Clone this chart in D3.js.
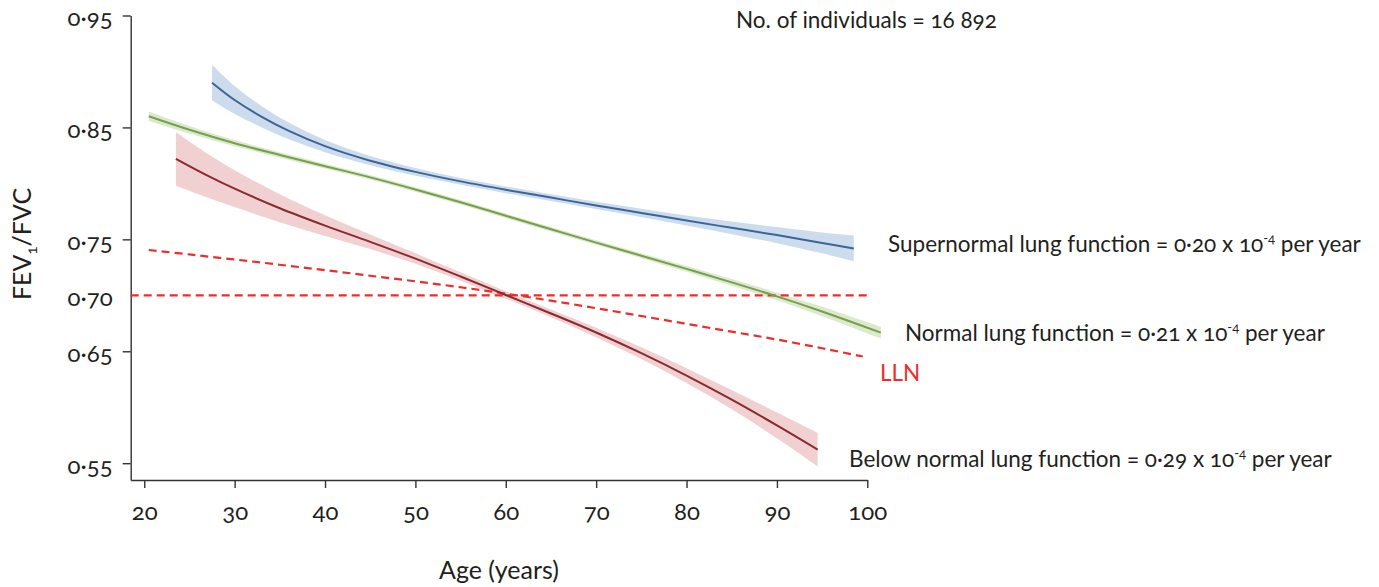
<!DOCTYPE html>
<html>
<head>
<meta charset="utf-8">
<script src="https://cdn.jsdelivr.net/npm/d3@7"></script>
<style>
    body { margin: 0; background: #fff; }
    svg text { font-family: Lato, "Open Sans", sans-serif; font-variant-numeric: oldstyle-nums; fill: #231f20; }
</style>
</head>
<body>
<svg id="chart"></svg>
<script>
// Values (FEV1/FVC by age), half = half width of the shaded band
const superAges = [27.5, 30, 33, 36, 40, 45, 50, 55, 60, 65, 70, 75, 80, 85, 90, 95, 98.5];
const superVals = [0.890, 0.8745, 0.8595, 0.8469, 0.8333, 0.8203, 0.8103, 0.8018, 0.7943, 0.7873, 0.7803, 0.7736, 0.7668, 0.7603, 0.7538, 0.7468, 0.7419];
const superHalf = [0.016, 0.0125, 0.0095, 0.0075, 0.0055, 0.0042, 0.0035, 0.003, 0.003, 0.003, 0.0032, 0.0037, 0.0045, 0.0057, 0.0072, 0.0093, 0.0115];

const normalAges = [20.5, 25, 30, 35, 40, 45, 50, 55, 60, 65, 70, 75, 80, 85, 90, 95, 101.5];
const normalVals = [0.860, 0.8479, 0.8359, 0.8254, 0.8154, 0.8054, 0.7946, 0.7831, 0.7711, 0.7591, 0.7471, 0.7354, 0.7236, 0.7116, 0.6991, 0.6856, 0.6667];
const normalHalf = [0.0042, 0.0034, 0.0028, 0.0024, 0.0022, 0.002, 0.002, 0.002, 0.002, 0.002, 0.002, 0.0022, 0.0025, 0.003, 0.0035, 0.0042, 0.0052];

const belowAges = [23.5, 27, 30, 35, 40, 45, 50, 55, 60, 65, 70, 75, 80, 85, 90, 94.5];
const belowVals = [0.822, 0.807, 0.7953, 0.7778, 0.7623, 0.7478, 0.7328, 0.7168, 0.7003, 0.6838, 0.6668, 0.6483, 0.6283, 0.6068, 0.5838, 0.5622];
const belowHalf = [0.024, 0.0195, 0.0165, 0.0125, 0.0092, 0.0065, 0.0047, 0.0037, 0.0033, 0.0035, 0.0042, 0.0052, 0.0066, 0.0085, 0.0115, 0.015];

const llnAges = [20.5, 25, 30, 35, 40, 45, 50, 55, 60, 65, 70, 75, 80, 85, 90, 95, 99.5];
const llnVals = [0.7405, 0.7365, 0.732, 0.7273, 0.7225, 0.7175, 0.7125, 0.7072, 0.7015, 0.6952, 0.6885, 0.6815, 0.6745, 0.6675, 0.6605, 0.6527, 0.6453];

const fixedRatio = 0.70;

const xTicks = [20, 30, 40, 50, 60, 70, 80, 90, 100];
const yTicks = [0.55, 0.65, 0.70, 0.75, 0.85, 0.95];

class TrajectoryChart {
    constructor(config_) {
        this.config = {
            svgElementId: config_.svgElementId,
            width: config_.width,
            height: config_.height
        };
        this.initVis();
    }

    initVis() {
        const vis = this;

        vis.svg = d3.select('#' + vis.config.svgElementId)
                        .attr('width', vis.config.width)
                        .attr('height', vis.config.height);

        vis.x = d3.scaleLinear().domain([18.5, 100]).range([130.7, 867.3]);
        vis.y = d3.scaleLinear().domain([0.535, 0.95]).range([480, 15.5]);

        const rows = (ages, vals, half) => ages.map((a, i) => ({ age: a, v: vals[i], h: half ? half[i] : 0 }));
        vis.series = [
            { key: 'super',  rows: rows(superAges, superVals, superHalf),    line: '#3b6596', band: '#cddcec' },
            { key: 'normal', rows: rows(normalAges, normalVals, normalHalf), line: '#76a04a', band: '#dce9ce' },
            { key: 'below',  rows: rows(belowAges, belowVals, belowHalf),    line: '#8a2a2e', band: '#f0d0d0' }
        ];
        vis.lln = rows(llnAges, llnVals);

        vis.renderVis();
    }

    renderVis() {
        const vis = this;
        const fmt = d => d3.format('.2f')(d).replace('.', '·');
        const red = '#ee2c2c';

        // axes
        const xAxis = d3.axisBottom(vis.x).tickValues(xTicks).tickSize(8).tickSizeOuter(0).tickPadding(15);
        const yAxis = d3.axisLeft(vis.y).tickValues(yTicks).tickSize(8).tickSizeOuter(0).tickPadding(10).tickFormat(fmt);

        const gx = vis.svg.append('g').attr('transform', 'translate(0,480)').call(xAxis);
        const gy = vis.svg.append('g').attr('transform', 'translate(130.7,0)').call(yAxis);

        [gx, gy].forEach(g => {
            g.select('.domain').attr('stroke', '#333').attr('stroke-width', 1.4);
            g.selectAll('.tick line').attr('stroke', '#333').attr('stroke-width', 1.4);
            g.selectAll('.tick text').attr('font-size', 24).attr('font-family', null).attr('fill', '#231f20');
        });
        gx.selectAll('.tick text').attr('dy', '0.71em');
        gy.selectAll('.tick text').attr('dy', '0.42em');
        gy.selectAll('.tick').filter(d => d === fixedRatio).select('line').remove();
        gy.selectAll('.tick').filter(d => d === fixedRatio).select('text').attr('fill', red);

        const area = d3.area()
                        .x(d => vis.x(d.age))
                        .y0(d => vis.y(d.v - d.h))
                        .y1(d => vis.y(d.v + d.h))
                        .curve(d3.curveCatmullRom);
        const line = d3.line()
                        .x(d => vis.x(d.age))
                        .y(d => vis.y(d.v))
                        .curve(d3.curveCatmullRom);

        // confidence bands
        vis.svg.selectAll('.band')
                .data(vis.series)
                .join('path')
                .attr('class', 'band')
                .attr('d', d => area(d.rows))
                .attr('fill', d => d.band);

        // 0.70 fixed ratio and LLN
        vis.svg.append('line')
                .attr('x1', vis.x(18.5)).attr('x2', vis.x(100))
                .attr('y1', vis.y(fixedRatio)).attr('y2', vis.y(fixedRatio))
                .attr('stroke', red).attr('stroke-width', 2.2).attr('stroke-dasharray', '8,5');
        vis.svg.append('path')
                .attr('d', line(vis.lln))
                .attr('fill', 'none')
                .attr('stroke', red).attr('stroke-width', 2.2).attr('stroke-dasharray', '8,5');

        vis.svg.selectAll('.fit')
                .data(vis.series)
                .join('path')
                .attr('class', 'fit')
                .attr('d', d => line(d.rows))
                .attr('fill', 'none')
                .attr('stroke', d => d.line)
                .attr('stroke-width', 2);

        // axis titles
        const yt = vis.svg.append('text')
                .attr('transform', 'translate(31,244) rotate(-90)')
                .attr('text-anchor', 'middle')
                .attr('font-size', 25);
        yt.append('tspan').text('FEV');
        yt.append('tspan').attr('font-size', 15).attr('dy', 6).text('1');
        yt.append('tspan').attr('dy', -6).text('/FVC');

        vis.svg.append('text')
                .attr('x', 499).attr('y', 579)
                .attr('text-anchor', 'middle')
                .attr('font-size', 25)
                .text('Age (years)');

        vis.svg.append('text')
                .attr('x', 736).attr('y', 28)
                .attr('font-size', 22.5)
                .text('No. of individuals = 16 892');

        const slopeLabel = (x, y, name, rate) => {
            const t = vis.svg.append('text').attr('x', x).attr('y', y).attr('font-size', 22.5);
            t.append('tspan').text(`${name} = ${rate} x 10`);
            t.append('tspan').attr('font-size', 13).attr('dy', -9).text('-4');
            t.append('tspan').attr('dy', 9).text(' per year');
        };
        slopeLabel(888, 252, 'Supernormal lung function', '0·20');
        slopeLabel(905, 341, 'Normal lung function', '0·21');
        slopeLabel(849, 467, 'Below normal lung function', '0·29');

        vis.svg.append('text')
                .attr('x', 880).attr('y', 381)
                .attr('font-size', 22.5)
                .style('fill', red)
                .text('LLN');
    }
}

new TrajectoryChart({ svgElementId: 'chart', width: 1379, height: 587 });
</script>
</body>
</html>
